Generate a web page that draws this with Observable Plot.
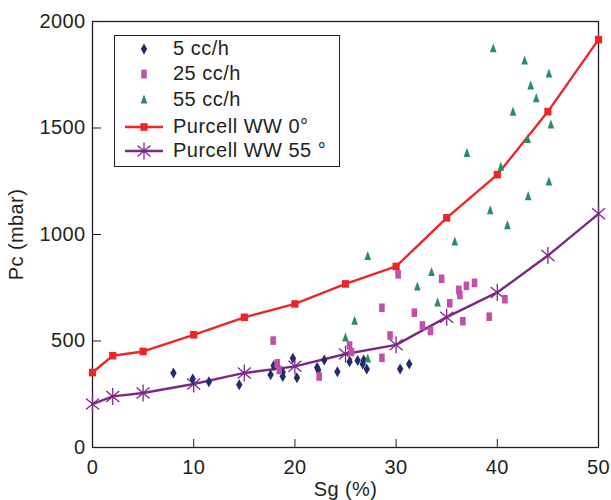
<!DOCTYPE html>
<html><head><meta charset="utf-8">
<script src="https://cdn.jsdelivr.net/npm/d3@7"></script>
<script src="https://cdn.jsdelivr.net/npm/@observablehq/plot@0.6"></script>
<style>
body{margin:0;background:#fff;font-family:"Liberation Sans",Arial,sans-serif;color:#231f20;}
#wrap{position:relative;width:611px;height:500px;}
#wrap svg text{letter-spacing:0.4px;}
#legend{position:absolute;left:114px;top:35px;width:224px;height:130px;border:1.4px solid #231f20;background:#fff;}
.row{position:absolute;left:0;height:24px;width:224px;}
.row svg{position:absolute;left:8px;top:0;}
.row span{position:absolute;left:58px;top:0px;font-size:20px;line-height:23px;letter-spacing:0.5px;white-space:nowrap;}
</style></head><body><div id="wrap"></div>
<script>
// ---- data ----
const sgCurve = [0, 2, 5, 10, 15, 20, 25, 30, 35, 40, 45, 50];
const pcPurcell0 = [352, 431, 451, 529, 611, 674, 768, 850, 1078, 1281, 1577, 1915];
const pcPurcell55 = [204, 240, 256, 298, 350, 381, 439, 482, 612, 728, 901, 1097];

const sg5 = [8.0, 9.9, 11.5, 14.5, 17.6, 17.9, 18.8, 18.8, 19.8, 20.2, 22.2, 22.3, 22.9, 24.2, 25.4, 26.2, 26.7, 26.8, 27.1, 30.4, 31.3];
const pc5 = [350, 322, 309, 295, 342, 384, 353, 333, 419, 327, 376, 364, 411, 356, 403, 408, 392, 411, 369, 369, 392];

const sg25 = [17.85, 18.25, 18.45, 22.4, 25.4, 25.6, 28.6, 29.4, 28.6, 30.2, 31.8, 32.6, 33.4, 34.5, 35.3, 36.2, 36.3, 36.6, 36.95, 37.75, 39.2, 40.75];
const pc25 = [502, 395, 364, 333, 479, 448, 421, 526, 656, 813, 633, 573, 547, 792, 677, 740, 716, 593, 759, 773, 614, 696];

const sg55 = [25.0, 25.9, 27.2, 27.2, 32.1, 33.5, 34.1, 35.8, 37.0, 39.3, 39.6, 40.35, 41.0, 41.55, 42.7, 43.0, 43.05, 43.3, 43.85, 45.1, 45.1, 45.3];
const pc55 = [515, 593, 416, 897, 754, 822, 679, 965, 1381, 1112, 1872, 1316, 1042, 1575, 1815, 1446, 1178, 1698, 1638, 1754, 1247, 1514];

const xTicks = [0, 10, 20, 30, 40, 50];
const yTicks = [0, 500, 1000, 1500, 2000];
const legendLabels = ["5 cc/h", "25 cc/h", "55 cc/h", "Purcell WW 0°", "Purcell WW 55 °"];

// ---- styles ----
const cNavy = "#232a6e", cMag = "#c350a8", cGreen = "#25905e", cRed = "#ee2526", cPurple = "#7b2a84";

const diamondTall = {draw(c){c.moveTo(0,-5.5);c.lineTo(3.2,0);c.lineTo(0,5.5);c.lineTo(-3.2,0);c.closePath();}};
const rectTall = {draw(c){c.rect(-2.8,-4.3,5.6,8.6);}};
const triTall = {draw(c){c.moveTo(0,-5.5);c.lineTo(3.3,3.6);c.lineTo(-3.3,3.6);c.closePath();}};
const sq = {draw(c){c.rect(-3.6,-3.8,7.2,7.6);}};
const star = {draw(c){c.moveTo(0,-8.5);c.lineTo(0,8.5);c.moveTo(-6.5,-5.5);c.lineTo(6.5,5.5);c.moveTo(-6.5,5.5);c.lineTo(6.5,-5.5);}};

const toRows = (xs, ys) => xs.map((x, i) => ({x, y: ys[i]}));
const c0 = toRows(sgCurve, pcPurcell0);
const c55 = toRows(sgCurve, pcPurcell55);
const d5 = toRows(sg5, pc5), d25 = toRows(sg25, pc25), d55 = toRows(sg55, pc55);

const chart = Plot.plot({
  width: 611, height: 500,
  marginLeft: 92, marginRight: 13, marginTop: 21, marginBottom: 53,
  style: {fontFamily: "'Liberation Sans', Arial, sans-serif", fontSize: "20px", color: "#231f20", background: "white", overflow: "visible"},
  x: {domain: [0, 50]},
  y: {domain: [0, 2000]},
  marks: [
    Plot.frame({stroke: "#231f20", strokeWidth: 1.3}),
    Plot.axisX({ticks: xTicks, tickSize: -8, tickPadding: 20, tickFormat: d => String(d), label: "Sg (%)", labelAnchor: "center", labelArrow: "none", labelOffset: 48}),
    Plot.axisY({ticks: yTicks, tickSize: -9, tickPadding: 16, tickFormat: d => String(d), label: "Pc (mbar)", labelAnchor: "center", labelArrow: "none", labelOffset: 84}),
    Plot.line(c0, {x: "x", y: "y", stroke: cRed, strokeWidth: 2.4}),
    Plot.dot(c0, {x: "x", y: "y", symbol: sq, fill: cRed, r: 4}),
    Plot.line(c55, {x: "x", y: "y", stroke: cPurple, strokeWidth: 2.4}),
    Plot.dot(c55, {x: "x", y: "y", symbol: star, fill: "none", stroke: cPurple, strokeWidth: 1.3, r: 5}),
    Plot.dot(d5, {x: "x", y: "y", symbol: diamondTall, fill: cNavy, r: 4}),
    Plot.dot(d25, {x: "x", y: "y", symbol: rectTall, fill: cMag, r: 4}),
    Plot.dot(d55, {x: "x", y: "y", symbol: triTall, fill: cGreen, r: 4})
  ]
});
const wrap = document.getElementById("wrap");
wrap.appendChild(chart);

// ---- legend ----
const legend = document.createElement("div");
legend.id = "legend";
const legendSymbols = [
  `<path d="M21,6.5L24.2,12L21,17.5L17.8,12Z" fill="${cNavy}"/>`,
  `<rect x="18.2" y="7.7" width="5.6" height="8.6" fill="${cMag}"/>`,
  `<path d="M21,6.5L24.3,15.6L17.7,15.6Z" fill="${cGreen}"/>`,
  `<line x1="2" x2="40" y1="12" y2="12" stroke="${cRed}" stroke-width="2.4"/><rect x="17.4" y="8.2" width="7.2" height="7.6" fill="${cRed}"/>`,
  `<line x1="2" x2="40" y1="12" y2="12" stroke="${cPurple}" stroke-width="2.4"/><path d="M21,3.5V20.5M14.5,6.5L27.5,17.5M14.5,17.5L27.5,6.5" stroke="${cPurple}" stroke-width="1.3" fill="none"/>`
];
const rowTops = [1, 26, 52, 79, 103];
legendLabels.forEach((lab, i) => {
  const r = document.createElement("div");
  r.className = "row";
  r.style.top = rowTops[i] + "px";
  r.innerHTML = `<svg width="44" height="24" viewBox="0 0 44 24">${legendSymbols[i]}</svg><span>${lab}</span>`;
  legend.appendChild(r);
});
wrap.appendChild(legend);
</script>
</body></html>
